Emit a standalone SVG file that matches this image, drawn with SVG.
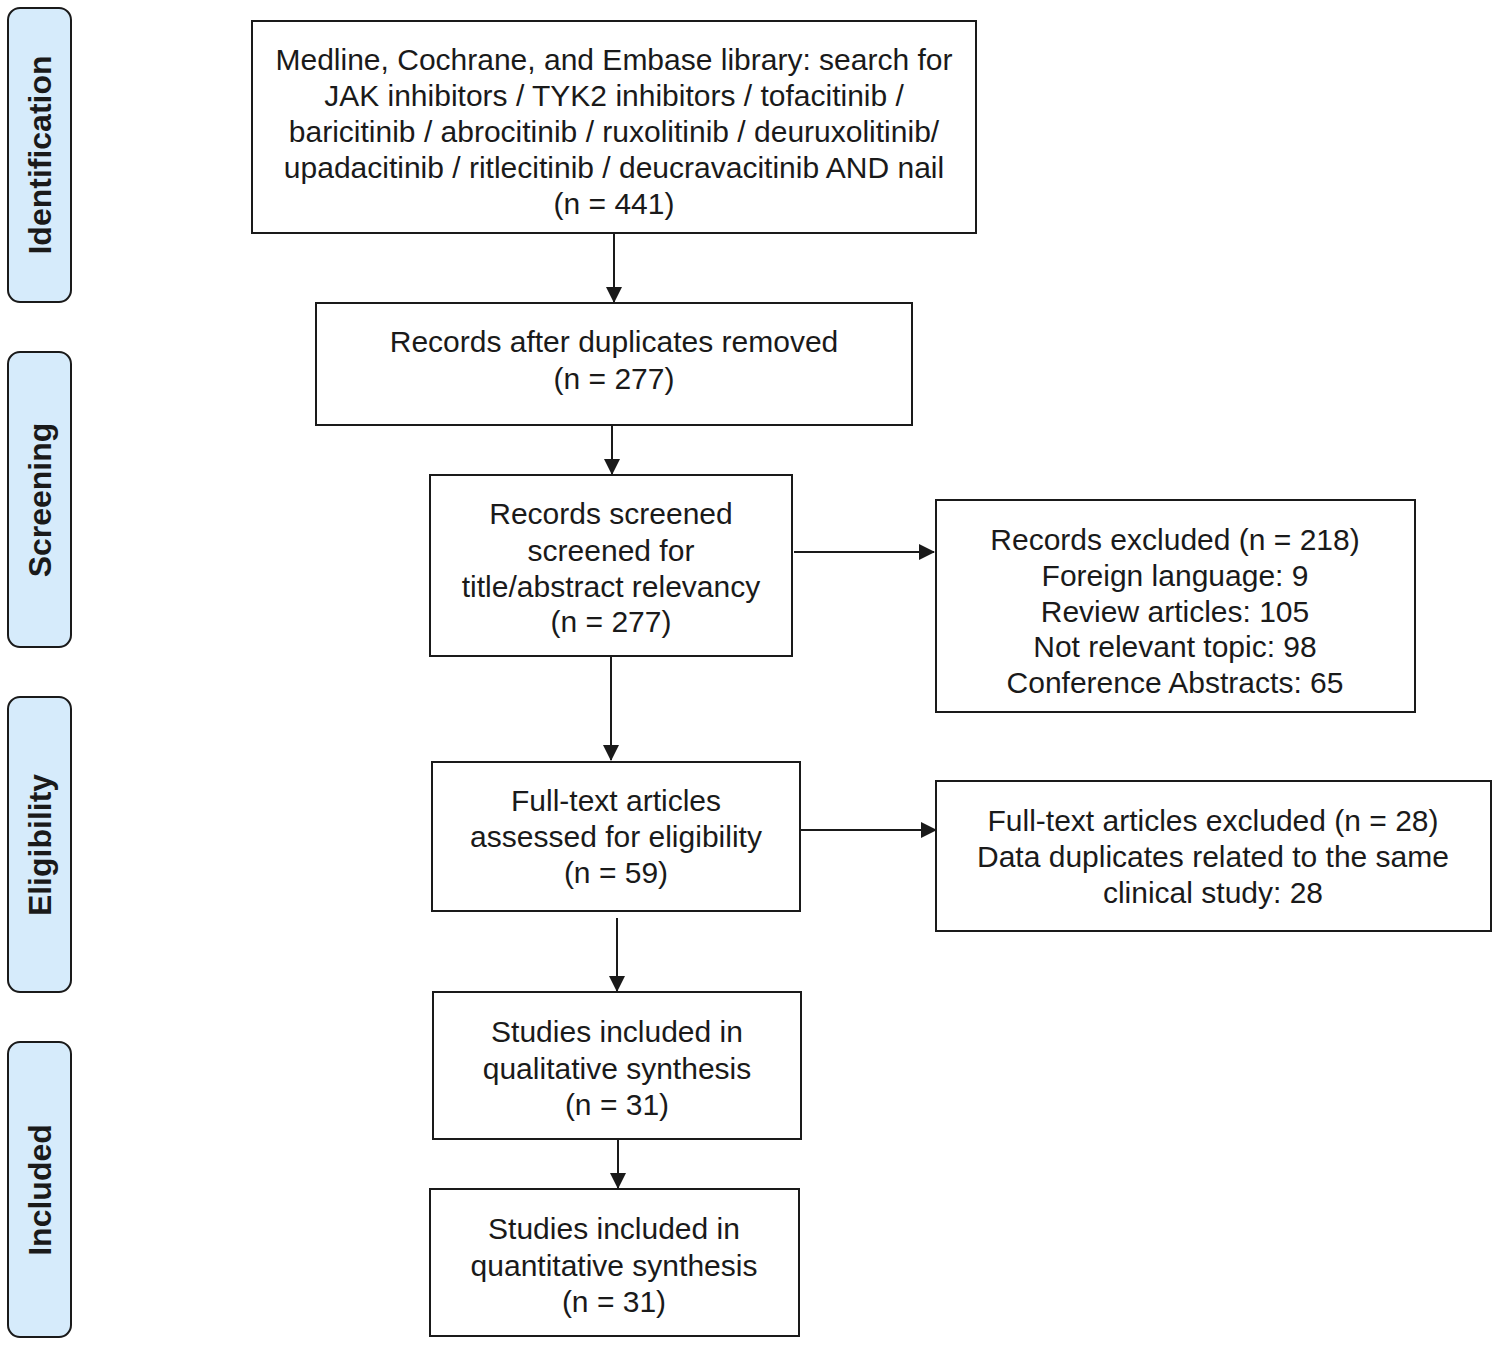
<svg xmlns="http://www.w3.org/2000/svg" width="1499" height="1345" viewBox="0 0 1499 1345">
<defs>
<style>
.box{fill:#fff;stroke:#1a1a1a;stroke-width:2}
.side{fill:#d6ebfb;stroke:#1a1a1a;stroke-width:2}
.t{font-family:"Liberation Sans",Arial,sans-serif;font-size:30px;fill:#1a1a1a;text-anchor:middle}
.s{font-family:"Liberation Sans",Arial,sans-serif;font-size:32px;font-weight:bold;fill:#1a1a1a;text-anchor:middle}
.c{stroke:#1a1a1a;stroke-width:2;fill:none;marker-end:url(#ah)}
</style>
<marker id="ah" markerWidth="16" markerHeight="16" refX="15" refY="8" orient="auto" markerUnits="userSpaceOnUse">
<path d="M0,0 L16,8 L0,16 Z" fill="#1a1a1a"/>
</marker>
</defs>
<rect width="1499" height="1345" fill="#fff"/>

<g id="side-identification"><rect class="side" x="8" y="8" width="63" height="294" rx="12"/><text class="s" transform="translate(51,155) rotate(-90)">Identification</text></g>
<g id="side-screening"><rect class="side" x="8" y="352" width="63" height="295" rx="12"/><text class="s" transform="translate(51,500) rotate(-90)">Screening</text></g>
<g id="side-eligibility"><rect class="side" x="8" y="697" width="63" height="295" rx="12"/><text class="s" transform="translate(51,845) rotate(-90)">Eligibility</text></g>
<g id="side-included"><rect class="side" x="8" y="1042" width="63" height="295" rx="12"/><text class="s" transform="translate(51,1190) rotate(-90)">Included</text></g>

<g id="connectors">
<line class="c" x1="614" y1="234" x2="614" y2="302"/>
<line class="c" x1="612" y1="426" x2="612" y2="474"/>
<line class="c" x1="611" y1="657" x2="611" y2="760"/>
<line class="c" x1="794" y1="552" x2="934" y2="552"/>
<line class="c" x1="801" y1="830" x2="936" y2="830"/>
<line class="c" x1="617" y1="918" x2="617" y2="991"/>
<line class="c" x1="618" y1="1140" x2="618" y2="1188"/>
</g>

<g id="n1"><rect class="box" x="252" y="21" width="724" height="212"/>
<text class="t" x="614" y="69.5">Medline, Cochrane, and Embase library: search for</text>
<text class="t" x="614" y="105.5">JAK inhibitors / TYK2 inhibitors / tofacitinib /</text>
<text class="t" x="614" y="141.5">baricitinib / abrocitinib / ruxolitinib / deuruxolitinib/</text>
<text class="t" x="614" y="177.5">upadacitinib / ritlecitinib / deucravacitinib AND nail</text>
<text class="t" x="614" y="213.5">(n = 441)</text></g>

<g id="n2"><rect class="box" x="316" y="303" width="596" height="122"/>
<text class="t" x="614" y="351.5">Records after duplicates removed</text>
<text class="t" x="614" y="388.5">(n = 277)</text></g>

<g id="n3"><rect class="box" x="430" y="475" width="362" height="181"/>
<text class="t" x="611" y="523.5">Records screened</text>
<text class="t" x="611" y="560.5">screened for</text>
<text class="t" x="611" y="596.5">title/abstract relevancy</text>
<text class="t" x="611" y="631.5">(n = 277)</text></g>

<g id="n4"><rect class="box" x="936" y="500" width="479" height="212"/>
<text class="t" x="1175" y="549.5">Records excluded (n = 218)</text>
<text class="t" x="1175" y="585.5">Foreign language: 9</text>
<text class="t" x="1175" y="621.5">Review articles: 105</text>
<text class="t" x="1175" y="656.5">Not relevant topic: 98</text>
<text class="t" x="1175" y="692.5">Conference Abstracts: 65</text></g>

<g id="n5"><rect class="box" x="432" y="762" width="368" height="149"/>
<text class="t" x="616" y="810.5">Full-text articles</text>
<text class="t" x="616" y="846.5">assessed for eligibility</text>
<text class="t" x="616" y="882.5">(n = 59)</text></g>

<g id="n6"><rect class="box" x="936" y="781" width="555" height="150"/>
<text class="t" x="1213" y="830.5">Full-text articles excluded (n = 28)</text>
<text class="t" x="1213" y="866.5">Data duplicates related to the same</text>
<text class="t" x="1213" y="902.5">clinical study: 28</text></g>

<g id="n7"><rect class="box" x="433" y="992" width="368" height="147"/>
<text class="t" x="617" y="1041.5">Studies included in</text>
<text class="t" x="617" y="1078.5">qualitative synthesis</text>
<text class="t" x="617" y="1114.5">(n = 31)</text></g>

<g id="n8"><rect class="box" x="430" y="1189" width="369" height="147"/>
<text class="t" x="614" y="1238.5">Studies included in</text>
<text class="t" x="614" y="1275.5">quantitative synthesis</text>
<text class="t" x="614" y="1311.5">(n = 31)</text></g>
</svg>
